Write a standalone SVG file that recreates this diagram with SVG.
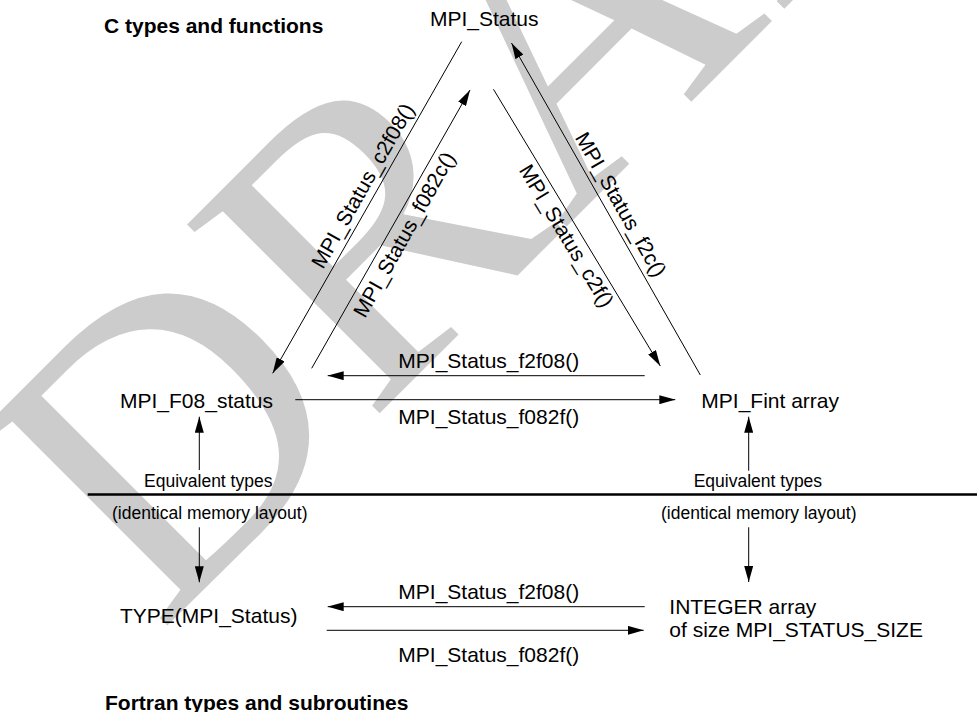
<svg xmlns="http://www.w3.org/2000/svg" width="977" height="712" viewBox="0 0 977 712">
<style>
text{font-family:"Liberation Sans",Arial,sans-serif;fill:#000}
.n{font-size:21px}
.h{font-size:21px;font-weight:bold}
.s{font-size:17.5px}
.l{stroke:#000;stroke-width:1;fill:none}
.a{marker-end:url(#ah)}
.wm{font-family:"Liberation Serif",serif;fill:#ccc}
</style>
<defs>
<marker id="ah" markerUnits="userSpaceOnUse" markerWidth="16" markerHeight="9" refX="16" refY="4.5" orient="auto"><path d="M0,0 L16,4.5 L0,9 z" fill="#000"/></marker>
</defs>
<rect width="977" height="712" fill="#fff"/>
<text class="wm" font-size="412" transform="translate(159,634) rotate(-45)">DRAFT</text>

<text class="h" x="104" y="33">C types and functions</text>
<text class="h" x="105" y="710">Fortran types and subroutines</text>

<g id="mpi_status"><text class="n" x="430" y="26">MPI_Status</text></g>
<g id="mpi_f08_status"><text class="n" x="120" y="407.7">MPI_F08_status</text></g>
<g id="mpi_fint_array"><text class="n" x="701.3" y="407.7">MPI_Fint array</text></g>
<g id="type_mpi_status"><text class="n" x="120" y="622.7">TYPE(MPI_Status)</text></g>
<g id="integer_array"><text class="n" x="669.3" y="614">INTEGER array</text><text class="n" x="669.3" y="636.7">of size MPI_STATUS_SIZE</text></g>

<g id="connectors">
<line x1="87.7" y1="494.5" x2="977" y2="494.5" stroke="#000" stroke-width="2.5"/>
<path class="l a" d="M461.7,41.7 L272.7,373.3"/>
<path class="l a" d="M311.7,368.3 L470,90"/>
<path class="l a" d="M493.5,89.3 L660.3,366"/>
<path class="l a" d="M700.3,375 L511.5,43"/>
<path class="l a" d="M644.7,375.7 L327.7,375.7"/>
<path class="l a" d="M295.3,399.7 L675.3,399.7"/>
<path class="l a" d="M199.3,470 L199.3,416.7"/>
<path class="l a" d="M199.3,527.3 L199.3,582.3"/>
<path class="l a" d="M748.7,470.7 L748.7,416.7"/>
<path class="l a" d="M748.7,527.3 L748.7,582"/>
<path class="l a" d="M644.7,606.7 L327.7,606.7"/>
<path class="l a" d="M326.7,630.3 L643.7,630.3"/>

<text class="n" transform="translate(323,270) rotate(-60.3)">MPI_Status_c2f08()</text>
<text class="n" transform="translate(365,319) rotate(-60.7)">MPI_Status_f082c()</text>
<text class="n" transform="translate(518.5,170) rotate(58.9)">MPI_Status_c2f()</text>
<text class="n" transform="translate(574.5,137.5) rotate(60.4)">MPI_Status_f2c()</text>
<text class="n" x="398.3" y="368.3">MPI_Status_f2f08()</text>
<text class="n" x="398.3" y="424">MPI_Status_f082f()</text>
<text class="n" x="398.3" y="599">MPI_Status_f2f08()</text>
<text class="n" x="398.3" y="661.7">MPI_Status_f082f()</text>
<text class="s" x="144" y="486.7">Equivalent types</text>
<text class="s" x="112" y="519">(identical memory layout)</text>
<text class="s" x="693.7" y="486.7">Equivalent types</text>
<text class="s" x="661" y="519">(identical memory layout)</text>
</g>
</svg>
